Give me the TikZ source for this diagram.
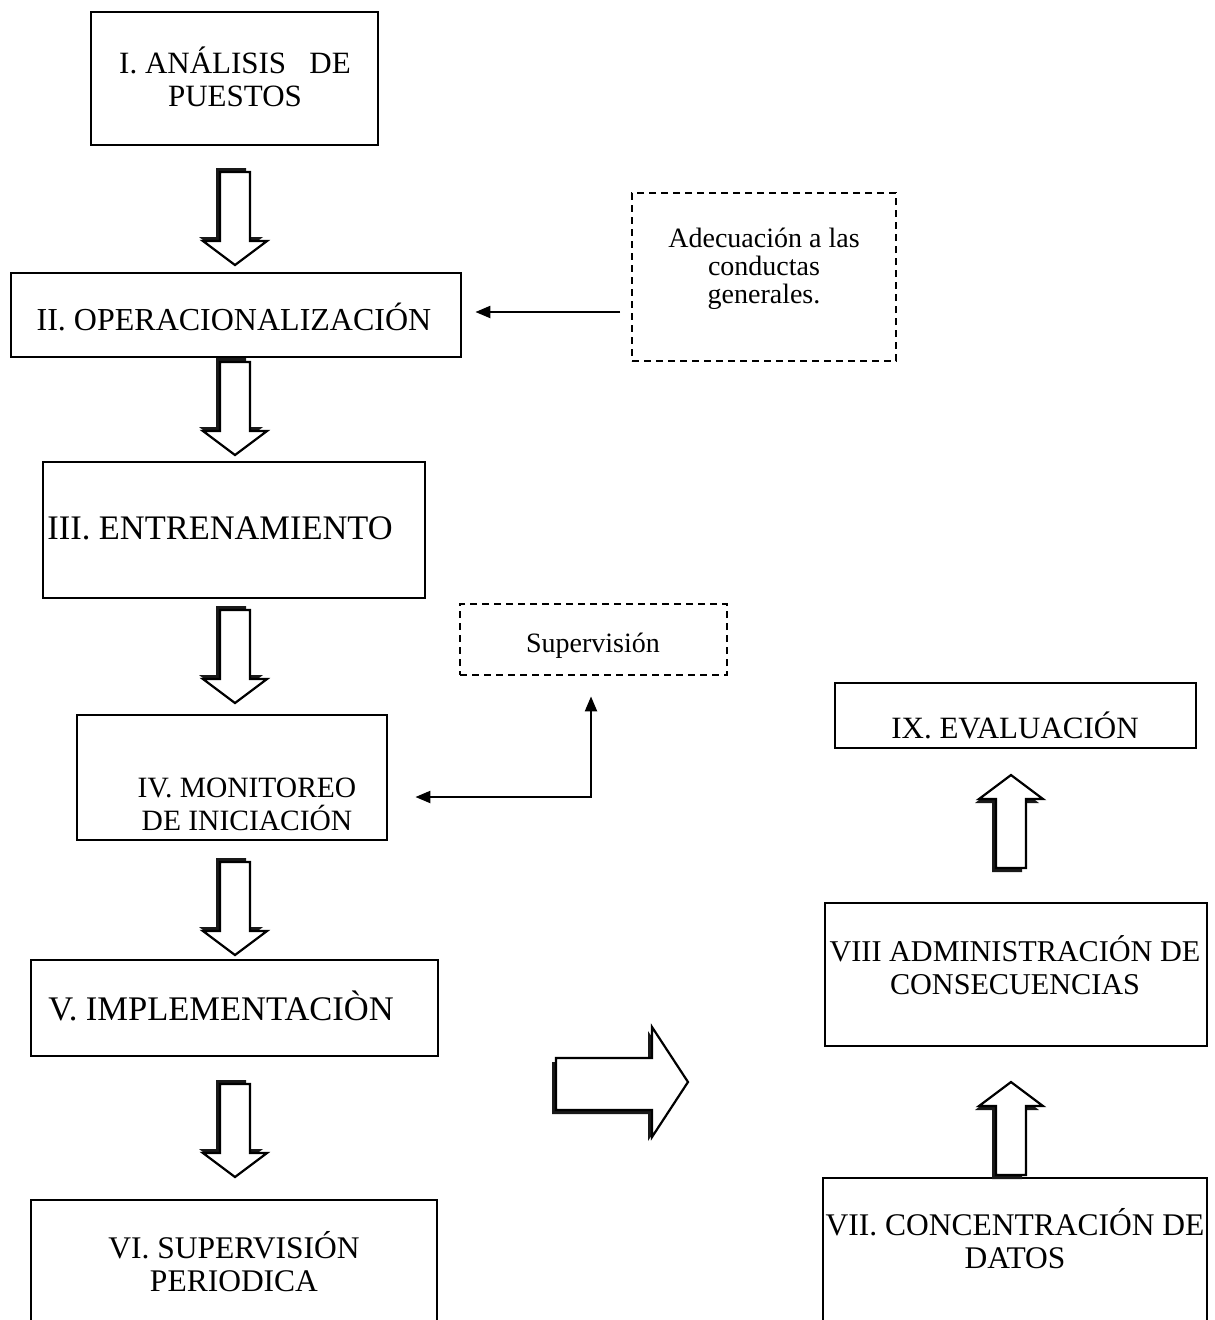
\documentclass[tikz,border=0pt]{standalone}
\usepackage{fontspec}
\setmainfont{Liberation Serif}
\usetikzlibrary{arrows.meta,fit}
\begin{document}
\begin{tikzpicture}[x=1pt,y=-1pt,
  box/.style={draw, line width=2.8pt, inner sep=0pt},
  dbox/.style={draw, line width=2.8pt, dash pattern=on 7pt off 5pt, inner sep=0pt},
  txt/.style={align=center, inner sep=0pt},
  conn/.style={line width=2.2pt, -{Triangle[length=15pt,width=12pt]}},
  fs/.style={font=\fontsize{#1}{33}\selectfont},
  downblock/.pic={
    \fill[black!90, shift={(-4,-4)}] (-15,0) -- (15,0) -- (15,69) -- (32,69) -- (0,93) -- (-32,69) -- (-15,69) -- cycle;
    \draw[line width=2.2pt, fill=white] (-15,0) -- (15,0) -- (15,69) -- (32,69) -- (0,93) -- (-32,69) -- (-15,69) -- cycle;
  },
]
\useasboundingbox (0,0) rectangle (1215,1320);

% boxes
\node[box, fit={(91,12) (378,145)}] (b1) {};
\node[box, fit={(11,273) (461,357)}] (b2) {};
\node[box, fit={(43,462) (425,598)}] (b3) {};
\node[box, fit={(77,715) (387,840)}] (b4) {};
\node[box, fit={(31,960) (438,1056)}] (b5) {};
\node[box, fit={(31,1200) (437,1335)}] (b6) {};
\node[box, fit={(823,1178) (1207,1335)}] (b7) {};
\node[box, fit={(825,903) (1207,1046)}] (b8) {};
\node[box, fit={(835,683) (1196,748)}] (b9) {};
\node[dbox, fit={(632,193) (896,361)}] (d1) {};
\node[dbox, fit={(460,604) (727,675)}] (d2) {};

% texts
\node[txt, fs=31] (t1) at (235,77) {I. ANÁLISIS\ \ \ DE\\PUESTOS};
\node[txt, fs=32] (t2) at (234,317) {II. OPERACIONALIZACIÓN};
\node[txt, fs=34.4] (t3) at (220,528) {III. ENTRENAMIENTO};
\node[txt, fs=29.5] (t4) at (247,804) {IV. MONITOREO\\DE INICIACIÓN};
\node[txt, fs=34.5] (t5) at (221,1006) {V. IMPLEMENTACIÒN};
\node[txt, fs=31.5] (t6) at (234,1262) {VI. SUPERVISIÓN\\PERIODICA};
\node[txt, fs=31.5] (t7) at (1015,1239) {VII. CONCENTRACIÓN DE\\DATOS};
\node[txt, fs=30.2] (t8) at (1015,965) {VIII ADMINISTRACIÓN DE\\CONSECUENCIAS};
\node[txt, fs=31] (t9) at (1015,725) {IX. EVALUACIÓN};
\node[txt, font=\fontsize{28}{28}\selectfont] (td1) at (764,269) {Adecuación a las\\conductas\\generales.};
\node[txt, font=\fontsize{28}{28}\selectfont] (td2) at (593,646) {Supervisión};

% block arrows
\pic at (235,172) {downblock};
\pic at (235,362) {downblock};
\pic at (235,610) {downblock};
\pic at (235,862) {downblock};
\pic at (235,1084) {downblock};
\pic[yscale=-1] at (1011,868) {downblock};
\pic[yscale=-1] at (1011,1175) {downblock};
\fill[black!90, shift={(-4,4)}] (556,1058) -- (652,1058) -- (652,1027) -- (688,1082) -- (652,1137) -- (652,1110) -- (556,1110) -- cycle;
\draw[line width=2.2pt, fill=white] (556,1058) -- (652,1058) -- (652,1027) -- (688,1082) -- (652,1137) -- (652,1110) -- (556,1110) -- cycle;

% connectors
\coordinate (c1) at (620,312);
\draw[conn, shorten >=13pt] (c1) -- (b2.east |- c1);
\coordinate (c2) at (591,797);
\draw[line width=2.2pt, {Triangle[length=15pt,width=12pt]}-{Triangle[length=15pt,width=12pt]}, shorten <=27pt, shorten >=20pt] (b4.east |- c2) -- (c2) -- (c2 |- d2.south);
\end{tikzpicture}
\end{document}
